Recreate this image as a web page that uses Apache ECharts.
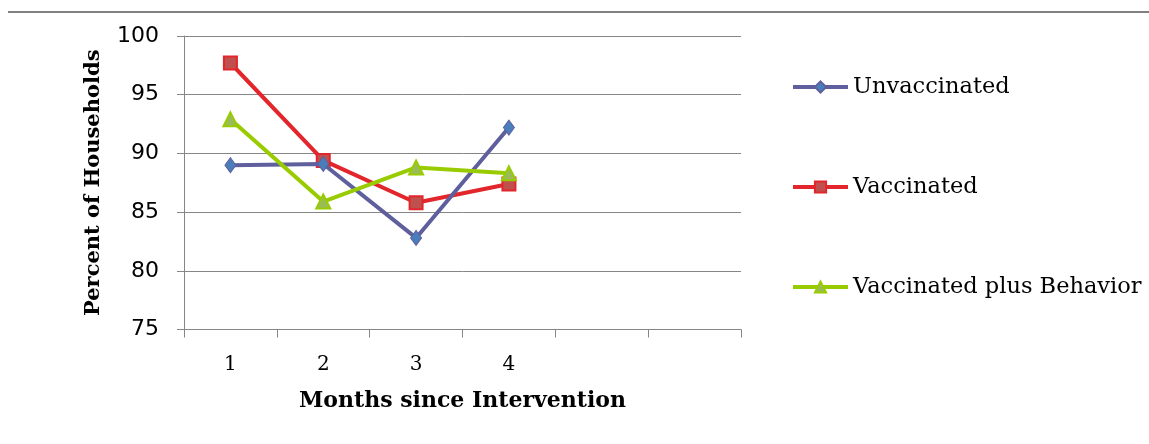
<!DOCTYPE html>
<html><head><meta charset="utf-8">
<script src="https://cdn.jsdelivr.net/npm/echarts@6/dist/echarts.min.js"></script>
<style>html,body{margin:0;padding:0;background:#fff}#c{width:1149px;height:444px}</style>
</head><body><div id="c"></div>
<script>
const categories = ['1','2','3','4','',''];
const unvaccinated = [89.0, 89.1, 82.8, 92.2];
const vaccinated = [97.7, 89.4, 85.8, 87.4];
const vaccinatedPlusBehavior = [92.9, 85.9, 88.8, 88.3];
const seriesNames = ['Unvaccinated','Vaccinated','Vaccinated plus Behavior'];
const yTicks = {min:75, max:100, interval:5};

const chart = echarts.init(document.getElementById('c'), null, {renderer:'canvas'});
const serif = 'DejaVu Serif';
const legendBase = (name, top) => ({
  data:[name], left:791, top:top, orient:'vertical', padding:0,
  itemWidth:55, itemHeight:14, itemGap:0,
  lineStyle:{width:4},
  textStyle:{fontFamily:serif, fontSize:22.5, color:'#000', lineHeight:24}
});
chart.setOption({
  animation:false,
  backgroundColor:'#fff',
  graphic:[{type:'line', shape:{x1:8,y1:12,x2:1149,y2:12}, style:{stroke:'#808080', lineWidth:2}}],
  legend:[legendBase(seriesNames[0],75), legendBase(seriesNames[1],175), legendBase(seriesNames[2],275)],
  grid:{left:184, right:408, top:36, bottom:114.5, containLabel:false},
  xAxis:{
    type:'category', data:categories, boundaryGap:true,
    name:'Months since Intervention', nameLocation:'middle', nameGap:61,
    nameTextStyle:{fontFamily:serif, fontWeight:'bold', fontSize:22, color:'#000', verticalAlign:'top'},
    axisLine:{lineStyle:{color:'#868686', width:1}},
    axisTick:{show:true, length:8, lineStyle:{color:'#868686'}, alignWithLabel:false},
    axisLabel:{fontFamily:serif, fontSize:20, color:'#000', margin:25, interval:0},
    splitLine:{show:false}
  },
  yAxis:{
    type:'value', min:yTicks.min, max:yTicks.max, interval:yTicks.interval,
    name:'Percent of Households', nameLocation:'middle', nameGap:80, nameRotate:90,
    nameTextStyle:{fontFamily:serif, fontWeight:'bold', fontSize:21, color:'#000'},
    axisLine:{show:true, lineStyle:{color:'#868686', width:1}},
    axisTick:{show:true, length:7, lineStyle:{color:'#868686'}},
    axisLabel:{fontFamily:'DejaVu Sans', fontSize:22, color:'#000', margin:25},
    splitLine:{show:true, lineStyle:{color:'#868686', width:1}}
  },
  series:[
    {name:seriesNames[0], type:'line', data:unvaccinated, symbol:'diamond', symbolSize:[11,15],
     lineStyle:{color:'#5F5F9E', width:4}, itemStyle:{color:'#4A7EBB', borderColor:'#5F5F9E', borderWidth:1}, z:3},
    {name:seriesNames[1], type:'line', data:vaccinated, symbol:'rect', symbolSize:13,
     lineStyle:{color:'#E2262C', width:4}, itemStyle:{color:'#C0504D', borderColor:'#E2262C', borderWidth:2}, z:2},
    {name:seriesNames[2], type:'line', data:vaccinatedPlusBehavior, symbol:'triangle', symbolSize:14,
     lineStyle:{color:'#99CC00', width:4}, itemStyle:{color:'#9BBB59', borderColor:'#99CC00', borderWidth:2}, z:4}
  ]
});
</script></body></html>
